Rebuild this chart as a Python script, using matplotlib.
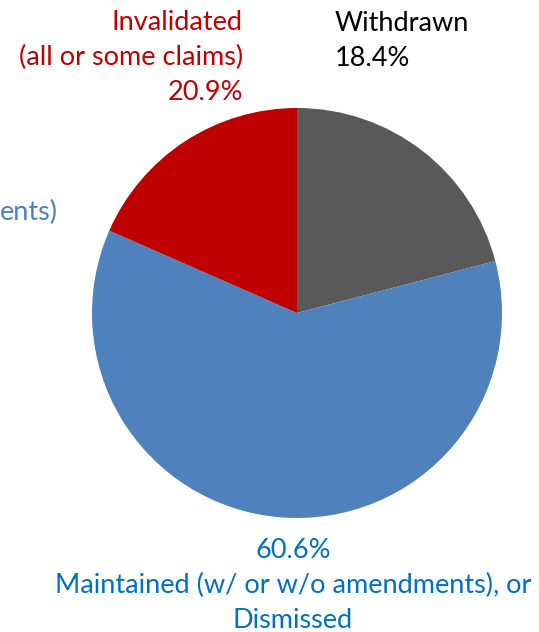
import matplotlib
matplotlib.use("Agg")
import matplotlib.pyplot as plt

plt.rcParams['font.family'] = ['Lato', 'DejaVu Sans']

# slice order: clockwise from 12 o'clock
slice_values = [20.9, 60.6, 18.4]
slice_colors = ['#595959', '#4f81bd', '#c00000']

label_texts = ['Withdrawn\n18.4%',
               '60.6%\nMaintained (w/ or w/o amendments), or\nDismissed',
               'Invalidated\n(all or some claims)\n20.9%']
label_colors = ['#000000', '#0070c0', '#c00000']

W, H = 539, 632
fig = plt.figure(figsize=(W / 100, H / 100), dpi=100)
ax = fig.add_axes([0, 0, 1, 1])

ax.pie(slice_values, colors=slice_colors, startangle=90, counterclock=False,
       center=(297, H - 313), radius=205, frame=True)
ax.set_xlim(0, W)
ax.set_ylim(0, H)
ax.set_aspect('equal')
ax.axis('off')

fs = 19.5
ls = 1.5
ax.text(335, H - 11, label_texts[0], color=label_colors[0], fontsize=fs,
        ha='left', va='top', linespacing=ls)
ax.text(293, H - 538, label_texts[1], color=label_colors[1], fontsize=fs,
        ha='center', va='top', multialignment='center', linespacing=ls)
ax.text(243, H - 10, label_texts[2], color=label_colors[2], fontsize=fs,
        ha='right', va='top', multialignment='right', linespacing=ls)
# tail of a label that runs off the left edge
ax.text(58, H - 212, 'ents)', color='#4f81bd',
        fontsize=fs, ha='right', va='center')

fig.savefig('out.png', dpi=100)
